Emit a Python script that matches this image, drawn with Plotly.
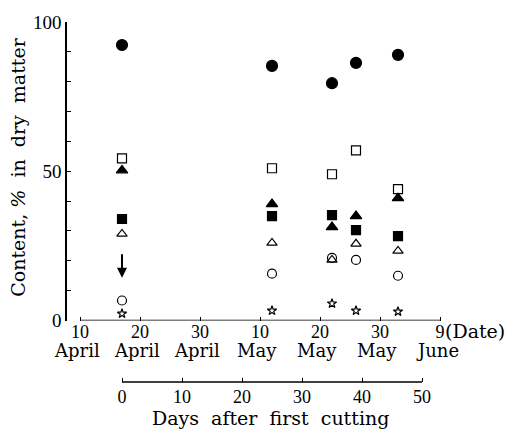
import plotly.graph_objects as go

# ---- data ----
sample_dates = ["2000-04-17", "2000-05-12", "2000-05-22", "2000-05-26", "2000-06-02"]
filled_circle = [92.3, 85.3, 79.5, 86.3, 89.0]
open_square = [54.3, 51.0, 49.0, 57.0, 44.0]
filled_triangle = [50.3, 39.0, 31.3, 35.0, 41.0]
filled_square = [34.0, 35.0, 35.3, 30.3, 28.3]
open_triangle = [29.0, 26.0, 20.3, 25.7, 23.3]
open_circle = [6.7, 15.7, 21.0, 20.3, 15.0]
open_star = [2.3, 3.3, 5.7, 3.3, 3.0]

arrow_date = "2000-04-17"
arrow_from = 22.7
arrow_to = 14.3

date_tick_vals = ["2000-04-10", "2000-04-20", "2000-04-30", "2000-05-10",
                  "2000-05-20", "2000-05-30", "2000-06-09"]
date_tick_days = ["10", "20", "30", "10", "20", "30", "9"]
date_tick_months = ["April", "April", "April", "May", "May", "May", "June"]
day_tick_vals = [0, 10, 20, 30, 40, 50]
y_tick_vals = [0, 10, 20, 30, 40, 50, 60, 70, 80, 90, 100]
y_tick_labels = {0: "0", 50: "50", 100: "100"}

# ---- styling ----
W, H = 512, 431
ML, MR, MT, MB = 67, 66, 19, 49
plot_h = H - MT - MB
plot_w = W - ML - MR
y_bottom_px = 320
ydom0 = ((H - MB) - y_bottom_px) / plot_h

NUM = "Liberation Serif"
TXT = "DejaVu Serif"
SP = "&nbsp;"

def num(s, size=17):
    return f'<span style="font-family:{NUM};font-size:{size}px">{s}</span>'

def py(px):
    return ((H - MB) - px) / plot_h

series = [
    (filled_circle, "circle", 11, "filled circle"),
    (open_square, "square-open", 9, "open square"),
    (filled_triangle, "triangle-up", 10, "filled triangle"),
    (filled_square, "square", 9, "filled square"),
    (open_triangle, "triangle-up-open", 9, "open triangle"),
    (open_circle, "circle-open", 9, "open circle"),
    (open_star, "star-open", 7, "open star"),
]

fig = go.Figure()
for vals, sym, size, name in series:
    fig.add_trace(go.Scatter(
        x=sample_dates, y=vals, mode="markers", name=name, showlegend=False,
        marker=dict(symbol=sym, size=size, color="black",
                    line=dict(color="black", width=1.2)),
        xaxis="x", yaxis="y",
    ))

annotations = [
    dict(x=arrow_date, y=arrow_to, ax=arrow_date, ay=arrow_from,
         xref="x", yref="y", axref="x", ayref="y", showarrow=True,
         arrowhead=2, arrowsize=1, arrowwidth=2, arrowcolor="black", text=""),
    dict(x=date_tick_vals[-1], y=0, xref="x", yref="y", text="(Date)",
         showarrow=False, xanchor="left", yanchor="middle", xshift=3, yshift=-10,
         font=dict(family=TXT, size=19)),
    dict(x=(18 - ML) / plot_w, y=py(166), xref="paper", yref="paper",
         text=f"Content,{SP}<i>%</i>{SP} in{SP} dry{SP} matter", textangle=-90, showarrow=False,
         xanchor="center", yanchor="middle", font=dict(family=TXT, size=19)),
    dict(x=(270 - ML) / plot_w, y=py(418), xref="paper", yref="paper",
         text=f"Days{SP} after{SP} first{SP} cutting", showarrow=False,
         xanchor="center", yanchor="middle", font=dict(family=TXT, size=19)),
]
for d, m in zip(date_tick_vals, date_tick_months):
    annotations.append(dict(x=d, y=py(350), xref="x", yref="paper", text=m,
                            showarrow=False, xanchor="center", yanchor="middle", xshift=-3,
                            font=dict(family=TXT, size=18)))

fig.update_layout(
    width=W, height=H,
    margin=dict(l=ML, r=MR, t=MT, b=MB),
    paper_bgcolor="white", plot_bgcolor="white",
    font=dict(family=TXT, size=17, color="black"),
    xaxis=dict(
        type="date", range=["2000-04-07 20:00", "2000-06-10 00:00"],
        anchor="y", showline=False, showgrid=False, zeroline=False,
        tickmode="array", tickvals=date_tick_vals,
        ticktext=[num(d, 18) for d in date_tick_days],
        ticks="inside", ticklen=4, tickwidth=1.2, tickcolor="black",
        tickfont=dict(family=NUM, size=18), ticklabelstandoff=-2,
    ),
    xaxis2=dict(
        overlaying="x", anchor="free", position=0, side="bottom",
        range=[-9.1667, 54.0], showline=False, showgrid=False, zeroline=False,
        tickmode="array", tickvals=day_tick_vals,
        ticktext=[num(v, 18) for v in day_tick_vals],
        tickfont=dict(family=NUM, size=18),
        ticks="inside", ticklen=4, tickwidth=1.2, tickcolor="black",
        ticklabelstandoff=2,
    ),
    yaxis=dict(
        domain=[ydom0, 1], range=[0, 100], showline=True, linecolor="black", linewidth=1.5,
        showgrid=False, zeroline=False,
        tickmode="array", tickvals=y_tick_vals,
        ticktext=[num(y_tick_labels[v], 19) if v in y_tick_labels else "" for v in y_tick_vals],
        tickfont=dict(family=NUM, size=19),
        ticks="inside", ticklen=4, tickwidth=1.2, tickcolor="black",
    ),
    shapes=[
        dict(type="line", xref="x", yref="y", x0=date_tick_vals[0], x1=date_tick_vals[-1],
             y0=0, y1=0, line=dict(color="black", width=1.5)),
        dict(type="line", xref="x2", yref="paper", x0=day_tick_vals[0], x1=day_tick_vals[-1],
             y0=0, y1=0, line=dict(color="black", width=1.5)),
    ],
    annotations=annotations,
)

fig.write_html("out.html")
